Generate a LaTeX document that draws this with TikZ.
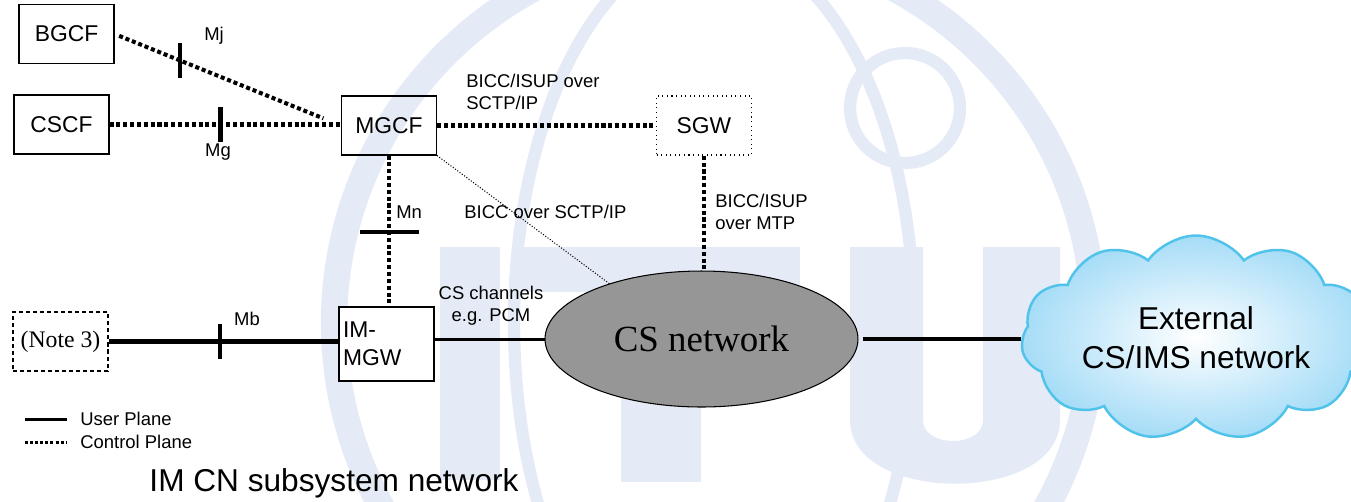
\documentclass[tikz,border=0pt]{standalone}
\usepackage{fontspec}
\setmainfont{Liberation Sans}
\newfontfamily\timesfont{Liberation Serif}
\usetikzlibrary{shapes.geometric,shapes.symbols,positioning}
\definecolor{wmblue}{RGB}{229,235,246}
\definecolor{cloudline}{RGB}{80,195,235}
\definecolor{cloudfill}{RGB}{165,220,247}
\definecolor{netgray}{RGB}{150,150,150}
\tikzset{
  nebox/.style  ={draw, line width=0.6pt, minimum width=19mm,
                  minimum height=11.8mm, inner sep=1pt,
                  font=\fontsize{13}{16}\selectfont},
  csnet/.style  ={draw, ellipse, fill=netgray, line width=0.6pt,
                  minimum width=62.6mm, minimum height=27.2mm, inner sep=0pt,
                  font=\timesfont\fontsize{21}{24}\selectfont},
  extcloud/.style={cloud, cloud puffs=11, cloud puff arc=110, aspect=2.1,
                  draw=cloudline, line width=1.4pt,
                  inner color=white, outer color=cloudfill,
                  minimum width=68mm, minimum height=27mm, align=center,
                  font=\fontsize{18}{22}\selectfont},
  ctrl/.style   ={line width=2.3pt, dash pattern=on 2.3pt off 1.6pt},
  thinctrl/.style={line width=0.6pt, densely dotted},
  user/.style   ={line width=2.3pt},
  userthin/.style={line width=1.7pt},
  tick/.style   ={line width=2.6pt},
  lbl/.style    ={font=\fontsize{10.5}{12.5}\selectfont, inner sep=0pt},
  biglbl/.style ={font=\fontsize{18}{22}\selectfont, inner sep=0pt},
  wm/.style     ={draw=wmblue, line width=15pt},
  wmthin/.style ={draw=wmblue, line width=7pt},
}

\begin{document}
\begin{tikzpicture}[x=0.02cm, y=-0.02cm]
  \useasboundingbox (0,0) rectangle (1351,501);
  % ---- faint logo in the background
  \draw[wm] (714,323) circle [radius=76mm];
  \draw[wmthin] (714,323) ellipse [x radius=40mm, y radius=76mm];
  \draw[wmthin] (905,108) circle [radius=11mm];
  \fill[wmblue] (440,247) rectangle (500,480);
  \fill[wmblue] (520,247) rectangle (800,292);
  \fill[wmblue] (621,247) rectangle (701,482);
  \fill[wmblue] (850,247) -- (850,420) .. controls (850,505) and (1060,505) .. (1060,420)
    -- (1060,247) -- (983,247) -- (983,420) .. controls (983,448) and (923,448) .. (923,420)
    -- (923,247) -- cycle;
  % ---- nodes
  \node[nebox] (bgcf) at (66.5,34) {BGCF};
  \node[nebox] (cscf) at (61.5,124.5) {CSCF};
  \node[nebox] (mgcf) at (389,125.5) {MGCF};
  \node[nebox, fill=white, dotted, line width=0.9pt] (sgw) at (704,125.5) {SGW};
  \node[nebox, fill=white, text width=17.4mm, align=left, minimum height=14.8mm,
        inner sep=0.6mm] (immgw) at (386.5,344) {IM-\\MGW};
  \node[nebox, fill=white, line width=0.9pt, dash pattern=on 2.3pt off 1.7pt,
        font=\timesfont\fontsize{13.5}{16}\selectfont] (note3) at (60.5,341.5) {(Note 3)};
  \node[csnet] (csnet) at (701.5,339) {CS network};
  \node[extcloud] (cloud) at (1196,338) {External\\CS/IMS network};
  % ---- control plane
  \draw[ctrl, shorten <=1mm, shorten >=3.8mm] (bgcf.east) -- (mgcf.west)
    coordinate[pos=0.29] (mj);
  \draw[ctrl] (cscf.east) -- (cscf.east -| mgcf.west) coordinate[pos=0.48] (mg);
  \draw[ctrl] (mgcf.east) -- (sgw.west);
  \draw[ctrl] (mgcf.south) -- (mgcf.south |- immgw.north) coordinate[pos=0.507] (mn);
  \draw[ctrl] (sgw.south) -- (sgw.south |- csnet.north);
  \draw[thinctrl] (mgcf.south east) -- (csnet.149);
  % ---- user plane
  \draw[user] (note3.east) -- (note3.east -| immgw.west) coordinate[pos=0.485] (mb);
  \draw[userthin] (immgw.east |- csnet.west) -- (csnet.west);
  \draw[user, shorten <=0.8mm] (csnet.east) -- (csnet.east -| cloud.west);
  % ---- reference points
  \draw[tick] ([yshift=3.5mm]mj) -- ([yshift=-3.5mm]mj);
  \draw[tick] ([yshift=3.5mm]mg) -- ([yshift=-3.5mm]mg);
  \draw[tick] ([yshift=3.5mm]mb) -- ([yshift=-3.5mm]mb);
  \draw[tick] ([xshift=-5.8mm]mn) -- ([xshift=6mm]mn);
  \node[lbl] (mjlbl) at (214,36) {Mj};
  \node[lbl] (mglbl) at (218,152) {Mg};
  \node[lbl] (mblbl) at (247,319) {Mb};
  \node[lbl, anchor=west] (mnlbl) at (396,212) {Mn};
  % ---- interface labels
  \node[lbl, anchor=west, align=left] (sctplbl) at (466,92) {BICC/ISUP over\\SCTP/IP};
  \node[lbl, anchor=west] (bicclbl) at (464,212) {BICC over SCTP/IP};
  \node[lbl, anchor=west, align=left] (mtplbl) at (715,212) {BICC/ISUP\\over MTP};
  \node[lbl, align=center] (pcmlbl) at (491,306) {CS channels\\e.g. PCM};
  % ---- legend
  \coordinate (upstart) at (25,419);
  \coordinate (cpstart) at (25,442);
  \node[lbl, anchor=west] (uptext) at (80,419) {User Plane};
  \node[lbl, anchor=west] (cptext) at (80,442) {Control Plane};
  \draw[userthin] (upstart) -- ([xshift=-2.6mm]uptext.west);
  \draw[userthin, dash pattern=on 1.7pt off 1.2pt] (cpstart) -- ([xshift=-2.6mm]cptext.west);
  \node[biglbl] (imcn) at (334,483) {IM CN subsystem network};
\end{tikzpicture}
\end{document}
